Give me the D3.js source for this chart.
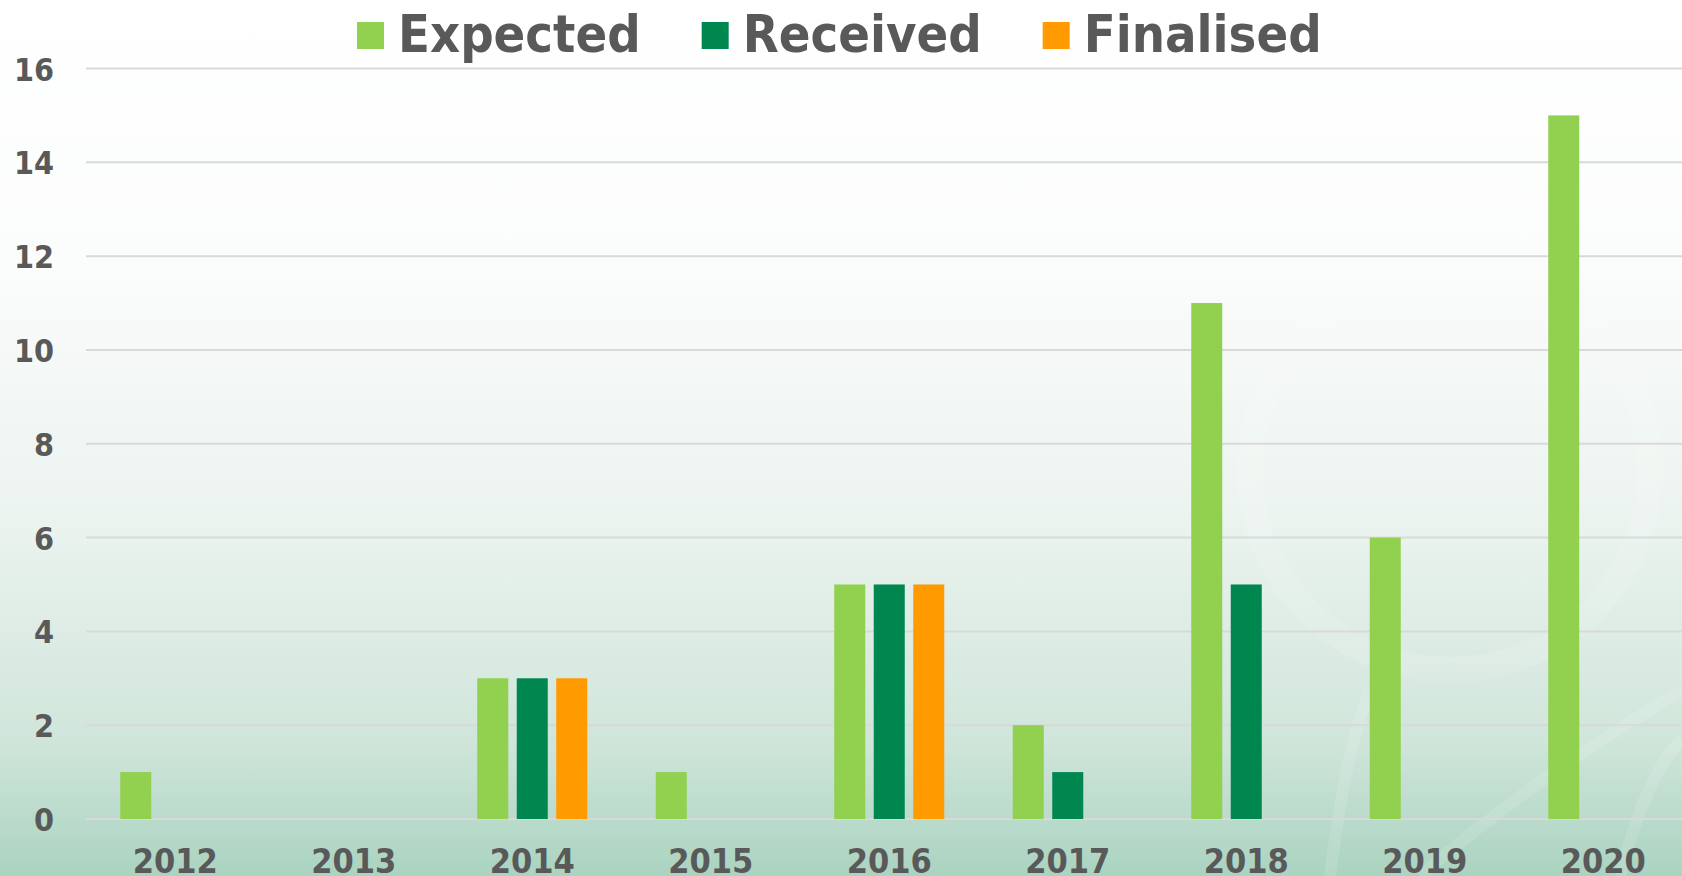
<!DOCTYPE html>
<html>
<head>
<meta charset="utf-8">
<script src="https://cdn.jsdelivr.net/npm/d3@7"></script>
<style>
  body { margin: 0; overflow: hidden; }
  svg { display: block; }
  text { font-family: "DejaVu Sans Condensed", "DejaVu Sans", sans-serif; font-weight: bold; fill: #595959; }
</style>
</head>
<body>
<svg id="chart" width="1682" height="876"></svg>
<script>
// chart data
var years = ["2012", "2013", "2014", "2015", "2016", "2017", "2018", "2019", "2020"]
var seriesNames = ["Expected", "Received", "Finalised"]
var expected = [1, 0, 3, 1, 5, 2, 11, 6, 15]
var received = [0, 0, 3, 0, 5, 1, 5, 0, 0]
var finalised = [0, 0, 3, 0, 5, 0, 0, 0, 0]
var yTicks = [0, 2, 4, 6, 8, 10, 12, 14, 16]

var colors = {"Expected": "#92d050", "Received": "#00874f", "Finalised": "#ff9a00"}

const W = 1682, H = 876
var margin = {top: 68.5, left: 86, bottom: 57}
var plotRight = 1692.5

const svg = d3.select("#chart")

// background gradient
var defs = svg.append("defs")
var grad = defs.append("linearGradient").attr("id", "bg")
    .attr("x1", 0).attr("y1", 0).attr("x2", 0).attr("y2", 1)
grad.append("stop").attr("offset", "0%").attr("stop-color", "#ffffff")
grad.append("stop").attr("offset", "30%").attr("stop-color", "#fbfcfc")
grad.append("stop").attr("offset", "60%").attr("stop-color", "#ebf3ef")
grad.append("stop").attr("offset", "85%").attr("stop-color", "#cfe5da")
grad.append("stop").attr("offset", "100%").attr("stop-color", "#aad3c0")
svg.append("rect").attr("width", W).attr("height", H).attr("fill", "url(#bg)")

// faint decorative swirl, bottom right
var deco = svg.append("g").attr("fill", "none").attr("stroke", "#ffffff").attr("stroke-opacity", 0.12)
deco.append("circle").attr("cx", 1450).attr("cy", 470).attr("r", 200).attr("stroke-width", 26)
deco.append("path").attr("d", "M1330,876 C1340,800 1350,740 1370,690").attr("stroke-width", 12)
deco.append("path").attr("d", "M1420,876 C1520,790 1600,740 1682,690").attr("stroke-width", 12)
deco.append("path").attr("d", "M1620,876 C1640,800 1660,760 1682,740").attr("stroke-width", 12)

// scales
const x0 = d3.scaleBand().domain(years).range([margin.left, plotRight]).padding(0)
const x1 = d3.scaleBand().domain(seriesNames).range([0, x0.bandwidth()])
    .paddingInner(0.215).paddingOuter(0.867)
const y = d3.scaleLinear().domain([0, 16]).range([H - margin.bottom, margin.top])

// gridlines
svg.append("g").selectAll("line").data(yTicks).join("line")
    .attr("x1", margin.left).attr("x2", plotRight)
    .attr("y1", d => y(d)).attr("y2", d => y(d))
    .attr("stroke", "#d9d9d9").attr("stroke-width", 2)

// y axis labels
const yAxis = svg.append("g")
    .attr("transform", `translate(${margin.left - 32},0)`)
    .call(d3.axisLeft(y).tickValues(yTicks).tickSize(0).tickPadding(0))
yAxis.select(".domain").remove()
yAxis.selectAll("text")
    .attr("font-size", 32).attr("font-family", null).attr("fill", "#595959")
    .attr("dy", "0.36em")

// x axis labels
const xAxis = svg.append("g")
    .attr("transform", `translate(0,${y(0) + 30})`)
    .call(d3.axisBottom(x0).tickSize(0).tickPadding(0))
xAxis.select(".domain").remove()
xAxis.selectAll("text")
    .attr("font-size", 34).attr("font-family", null).attr("fill", "#595959")
    .attr("dy", "0.72em")

// bars
var rows = years.map((yr, i) => ({year: yr, Expected: expected[i], Received: received[i], Finalised: finalised[i]}))

svg.append("g").selectAll("g").data(rows).join("g")
    .attr("transform", d => `translate(${x0(d.year)},0)`)
    .selectAll("rect")
    .data(d => seriesNames.map(s => ({key: s, value: d[s]})))
    .join("rect")
    .attr("x", d => x1(d.key))
    .attr("width", x1.bandwidth())
    .attr("y", d => y(d.value))
    .attr("height", d => y(0) - y(d.value))
    .attr("fill", d => colors[d.key])

// legend
var legend = svg.append("g")
var lx = 357
seriesNames.forEach(function(s) {
    legend.append("rect")
        .attr("x", lx).attr("y", 22).attr("width", 27).attr("height", 27)
        .attr("fill", colors[s])
    var t = legend.append("text")
        .attr("x", lx + 41).attr("y", 52)
        .attr("font-size", 52)
        .text(s)
    lx = lx + 41 + t.node().getComputedTextLength() + 61
})
</script>
</body>
</html>
